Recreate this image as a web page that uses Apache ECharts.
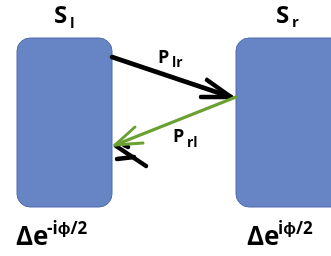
<!DOCTYPE html>
<html><head><meta charset="utf-8">
<script src="https://cdn.jsdelivr.net/npm/echarts@6/dist/echarts.min.js"></script>
<style>html,body{margin:0;padding:0;background:#fff}#c{width:331px;height:256px}</style>
</head><body><div id="c"></div>
<script>
// Diagram content
const nodeNames = ['S', 'S'];
const nodeSubs = ['l', 'r'];
const linkNames = ['P', 'P'];
const linkSubs = ['lr', 'rl'];
const phaseBase = ['Δe', 'Δe'];
const phaseSups = ['-iϕ/2', 'iϕ/2'];

const chart = echarts.init(document.getElementById('c'), null, {renderer: 'canvas'});
const FONT = '"Open Sans", "Liberation Sans", sans-serif';
const boxStyle = {fill: '#6784C4', stroke: '#4E6DAE', lineWidth: 1};
function txt(x, y, s, size) {
  return {type: 'text', x: x, y: y, style: {text: s, font: 'bold ' + size + 'px ' + FONT, fontSize: size, fontWeight: 'bold', fontFamily: FONT, fill: '#000', verticalAlign: 'top'}};
}
const blk = {stroke: '#000', lineWidth: 4.5, lineCap: 'round', lineJoin: 'round', fill: null};
const grn = {stroke: '#6BA133', lineWidth: 3, lineCap: 'round', lineJoin: 'round', fill: null};
const g = [
  {type: 'rect', shape: {x: 17, y: 38, width: 95, height: 169, r: 13}, style: boxStyle},
  {type: 'rect', shape: {x: 236, y: 38, width: 110, height: 169, r: 13}, style: boxStyle},
  // black arrow l -> r
  {type: 'line', shape: {x1: 112, y1: 57, x2: 231, y2: 97}, style: blk},
  {type: 'polyline', shape: {points: [[207, 80], [231, 97], [201, 97]]}, style: blk},
  // stray black arrowhead
  {type: 'polyline', shape: {points: [[116, 146], [146, 166]]}, style: blk},
  {type: 'polyline', shape: {points: [[124, 145], [128, 147]]}, style: blk},
  {type: 'polyline', shape: {points: [[117, 159], [134, 157]]}, style: blk},
  // green arrow r -> l
  {type: 'line', shape: {x1: 236, y1: 97, x2: 115, y2: 145}, style: grn},
  {type: 'polyline', shape: {points: [[135, 127], [115, 145], [143, 143]]}, style: grn},
  // labels
  txt(54, 4, nodeNames[0], 24), txt(70, 16, nodeSubs[0], 15),
  txt(276, 4, nodeNames[1], 24), txt(292, 15, nodeSubs[1], 15),
  txt(158, 49, linkNames[0], 18), txt(172, 56, linkSubs[0], 14),
  txt(173, 128, linkNames[1], 18), txt(187, 136, linkSubs[1], 14),
  txt(16, 225, phaseBase[0], 26), txt(47, 221, phaseSups[0], 17),
  txt(247, 225, phaseBase[1], 26), txt(278, 221, phaseSups[1], 17)
];
chart.setOption({animation: false, graphic: {elements: g}});
</script></body></html>
